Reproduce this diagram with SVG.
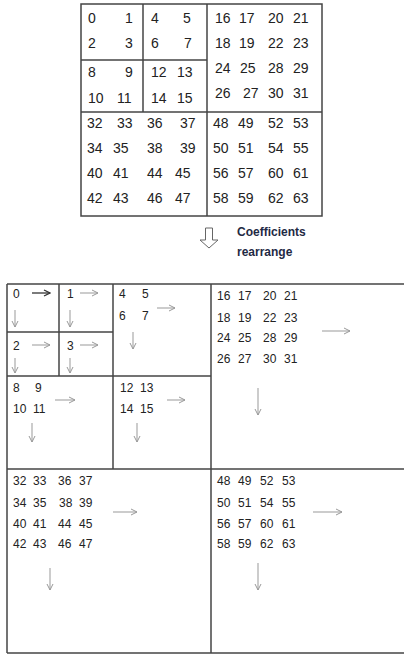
<svg xmlns="http://www.w3.org/2000/svg" width="404" height="655" viewBox="0 0 404 655">
<defs>
<style>
.g{fill:none;stroke:#444;stroke-width:1.5}
.t{font-family:"Liberation Sans",Arial,sans-serif;font-size:14px;fill:#222}
.s{font-family:"Liberation Sans",Arial,sans-serif;font-size:12px;fill:#222}
.a{stroke:#999;stroke-width:1;fill:none;marker-end:url(#ah)}
.ad{stroke:#333;stroke-width:1.3;fill:none;marker-end:url(#ahd)}
.lbl{font-family:"Liberation Sans",Arial,sans-serif;font-size:12px;font-weight:bold;fill:#1f2a44}
</style>
<marker id="ah" markerWidth="8" markerHeight="8" refX="7" refY="4" orient="auto" markerUnits="userSpaceOnUse">
<polyline points="1,1 7,4 1,7" fill="none" stroke="#999" stroke-width="1"/>
</marker>
<marker id="ahd" markerWidth="8" markerHeight="8" refX="7" refY="4" orient="auto" markerUnits="userSpaceOnUse">
<polyline points="1,1 7,4 1,7" fill="none" stroke="#333" stroke-width="1.3"/>
</marker>
</defs>
<rect width="404" height="655" fill="#fff"/>

<g id="top-grid">
<rect class="g" x="81" y="4" width="241" height="212"/>
<line class="g" x1="143" y1="4" x2="143" y2="112"/>
<line class="g" x1="207" y1="4" x2="207" y2="216"/>
<line class="g" x1="81" y1="60" x2="207" y2="60"/>
<line class="g" x1="81" y1="112" x2="322" y2="112"/>
<g class="t">
<text x="88" y="23">0</text><text x="125" y="23">1</text><text x="151" y="23">4</text><text x="183" y="23">5</text>
<text x="88" y="48">2</text><text x="125" y="48">3</text><text x="151" y="48">6</text><text x="184" y="48">7</text>
<text x="88" y="77">8</text><text x="125" y="77">9</text><text x="151" y="77">12</text><text x="177" y="77">13</text>
<text x="88" y="103">10</text><text x="117" y="103">11</text><text x="151" y="103">14</text><text x="177" y="103">15</text>
<text x="215" y="23">16</text><text x="239" y="23">17</text><text x="268" y="23">20</text><text x="293" y="23">21</text>
<text x="215" y="48">18</text><text x="239" y="48">19</text><text x="268" y="48">22</text><text x="293" y="48">23</text>
<text x="215" y="73">24</text><text x="240" y="73">25</text><text x="268" y="73">28</text><text x="293" y="73">29</text>
<text x="215" y="98">26</text><text x="243" y="98">27</text><text x="268" y="98">30</text><text x="293" y="98">31</text>
<text x="87" y="128">32</text><text x="117" y="128">33</text><text x="147" y="128">36</text><text x="180" y="128">37</text>
<text x="87" y="153">34</text><text x="113" y="153">35</text><text x="147" y="153">38</text><text x="180" y="153">39</text>
<text x="87" y="178">40</text><text x="113" y="178">41</text><text x="147" y="178">44</text><text x="175" y="178">45</text>
<text x="87" y="203">42</text><text x="113" y="203">43</text><text x="147" y="203">46</text><text x="175" y="203">47</text>
<text x="213" y="128">48</text><text x="238" y="128">49</text><text x="268" y="128">52</text><text x="293" y="128">53</text>
<text x="213" y="153">50</text><text x="238" y="153">51</text><text x="268" y="153">54</text><text x="293" y="153">55</text>
<text x="213" y="178">56</text><text x="238" y="178">57</text><text x="268" y="178">60</text><text x="293" y="178">61</text>
<text x="213" y="203">58</text><text x="238" y="203">59</text><text x="268" y="203">62</text><text x="293" y="203">63</text>
</g>
</g>

<g id="rearrange">
<path d="M205.5,228 H212.5 V240 H218 L209,248 L200,240 H205.5 Z" fill="#fff" stroke="#666" stroke-width="1"/>
<text class="lbl" x="237" y="236">Coefficients</text>
<text class="lbl" x="237" y="256">rearrange</text>
</g>

<g id="bottom-grid">
<line class="g" x1="7" y1="284" x2="404" y2="284"/>
<line class="g" x1="7" y1="469" x2="404" y2="469"/>
<line class="g" x1="7" y1="653" x2="404" y2="653"/>
<line class="g" x1="7" y1="284" x2="7" y2="653"/>
<line class="g" x1="211" y1="284" x2="211" y2="653"/>
<line class="g" x1="59" y1="284" x2="59" y2="376"/>
<line class="g" x1="113" y1="284" x2="113" y2="469"/>
<line class="g" x1="7" y1="332" x2="113" y2="332"/>
<line class="g" x1="7" y1="376" x2="211" y2="376"/>
</g>

<g id="block-0"><text class="s" x="13" y="298">0</text></g>
<g id="block-1"><text class="s" x="67" y="298">1</text></g>
<g id="block-2"><text class="s" x="13" y="350">2</text></g>
<g id="block-3"><text class="s" x="67" y="350">3</text></g>
<g id="block-4-7" class="s"><text x="119" y="298">4</text><text x="142" y="298">5</text><text x="119" y="320">6</text><text x="142" y="320">7</text></g>
<g id="block-8-11" class="s"><text x="13" y="392">8</text><text x="35" y="392">9</text><text x="13" y="413">10</text><text x="33" y="413">11</text></g>
<g id="block-12-15" class="s"><text x="120" y="392">12</text><text x="140" y="392">13</text><text x="120" y="413">14</text><text x="140" y="413">15</text></g>
<g id="block-16-31" class="s">
<text x="217" y="300">16</text><text x="238" y="300">17</text><text x="263" y="300">20</text><text x="284" y="300">21</text>
<text x="217" y="322">18</text><text x="238" y="322">19</text><text x="263" y="322">22</text><text x="284" y="322">23</text>
<text x="217" y="342">24</text><text x="238" y="342">25</text><text x="263" y="342">28</text><text x="284" y="342">29</text>
<text x="217" y="363">26</text><text x="238" y="363">27</text><text x="263" y="363">30</text><text x="284" y="363">31</text>
</g>
<g id="block-32-47" class="s">
<text x="13" y="485">32</text><text x="33" y="485">33</text><text x="58" y="485">36</text><text x="79" y="485">37</text>
<text x="13" y="507">34</text><text x="33" y="507">35</text><text x="59" y="507">38</text><text x="79" y="507">39</text>
<text x="13" y="528">40</text><text x="33" y="528">41</text><text x="58" y="528">44</text><text x="79" y="528">45</text>
<text x="13" y="548">42</text><text x="33" y="548">43</text><text x="58" y="548">46</text><text x="79" y="548">47</text>
</g>
<g id="block-48-63" class="s">
<text x="217" y="485">48</text><text x="238" y="485">49</text><text x="260" y="485">52</text><text x="282" y="485">53</text>
<text x="217" y="507">50</text><text x="238" y="507">51</text><text x="260" y="507">54</text><text x="282" y="507">55</text>
<text x="217" y="528">56</text><text x="238" y="528">57</text><text x="260" y="528">60</text><text x="282" y="528">61</text>
<text x="217" y="548">58</text><text x="238" y="548">59</text><text x="260" y="548">62</text><text x="282" y="548">63</text>
</g>

<g id="connectors">
<line class="ad" x1="32" y1="293" x2="50" y2="293"/>
<line class="a" x1="80" y1="293" x2="98" y2="293"/>
<line class="a" x1="15" y1="310" x2="15" y2="327"/>
<line class="a" x1="70" y1="310" x2="70" y2="327"/>
<line class="a" x1="157" y1="308" x2="175" y2="308"/>
<line class="a" x1="133" y1="332" x2="133" y2="349"/>
<line class="a" x1="32" y1="345" x2="50" y2="345"/>
<line class="a" x1="80" y1="345" x2="98" y2="345"/>
<line class="a" x1="15" y1="358" x2="15" y2="373"/>
<line class="a" x1="70" y1="358" x2="70" y2="373"/>
<line class="a" x1="55" y1="400" x2="75" y2="400"/>
<line class="a" x1="32" y1="423" x2="32" y2="442"/>
<line class="a" x1="167" y1="400" x2="185" y2="400"/>
<line class="a" x1="137" y1="423" x2="137" y2="442"/>
<line class="a" x1="322" y1="331" x2="350" y2="331"/>
<line class="a" x1="258" y1="388" x2="258" y2="415"/>
<line class="a" x1="113" y1="512" x2="137" y2="512"/>
<line class="a" x1="50" y1="568" x2="50" y2="590"/>
<line class="a" x1="313" y1="512" x2="342" y2="512"/>
<line class="a" x1="258" y1="563" x2="258" y2="590"/>
</g>
</svg>
